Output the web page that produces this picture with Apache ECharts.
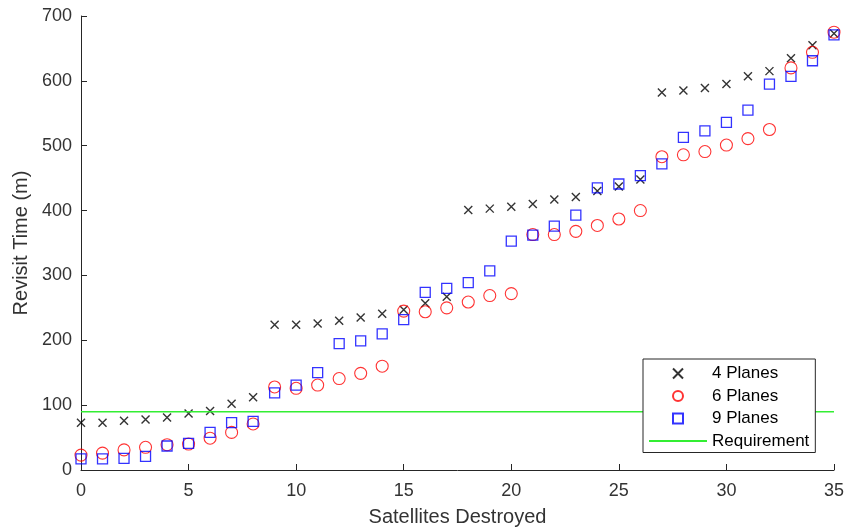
<!DOCTYPE html>
<html>
<head>
<meta charset="utf-8">
<script src="https://cdn.jsdelivr.net/npm/echarts@6/dist/echarts.min.js"></script>
<style>html,body{margin:0;padding:0;background:#fff;}#c{width:849px;height:532px;}</style>
</head>
<body>
<div id="c"></div>
<script>
const satellitesDestroyed = [0,1,2,3,4,5,6,7,8,9,10,11,12,13,14,15,16,17,18,19,20,21,22,23,24,25,26,27,28,29,30,31,32,33,34,35];
const planes4 = [73,73,76,78,81,87,91,102,112,224,224,226,230,235,241,247,257,267,401,403,406,410,417,421,430,437,448,582,585,589,595,607,615,635,655,673];
const planes6 = [23,26,31,35,39,40,49,58,71,128,126,131,141,149,160,245,244,250,259,269,272,363,363,368,377,387,400,483,486,491,501,511,525,620,644,675];
const planes9 = [17,17,18,21,37,41,58,73,75,119,131,150,195,199,210,232,274,280,289,307,353,362,376,393,435,441,454,472,513,523,536,555,595,607,631,671];
const requirementX = [0, 35];
const requirementY = [90, 90];
const xTicks = {min: 0, max: 35, interval: 5};
const yTicks = {min: 0, max: 700, interval: 100};
const seriesNames = ['4 Planes', '6 Planes', '9 Planes', 'Requirement'];

const pair = (xs, ys) => xs.map((x, i) => [x, ys[i]]);
const font = '"Liberation Sans", Arial, Helvetica, sans-serif';
const axisColor = '#262626';
const textColor = '#333333';
const crossPath = 'path://M0,0L10,10M10,0L0,10';
const squarePath = 'path://M0,0L10,0L10,10L0,10Z';

const chart = echarts.init(document.getElementById('c'), null, {renderer: 'canvas'});
chart.setOption({
  backgroundColor: '#ffffff',
  animation: false,
  textStyle: {fontFamily: font},
  grid: {left: 81, right: 15, top: 16, bottom: 61},
  xAxis: {
    type: 'value', min: xTicks.min, max: xTicks.max, interval: xTicks.interval,
    name: 'Satellites Destroyed', nameLocation: 'middle', nameGap: 37,
    nameTextStyle: {fontSize: 20, color: textColor, fontFamily: font},
    axisLine: {show: true, lineStyle: {color: axisColor, width: 1}},
    axisTick: {show: true, inside: true, length: 6, lineStyle: {color: axisColor}},
    axisLabel: {fontSize: 18, color: textColor, margin: 12, fontFamily: font},
    splitLine: {show: false}
  },
  yAxis: {
    type: 'value', min: yTicks.min, max: yTicks.max, interval: yTicks.interval,
    name: 'Revisit Time (m)', nameLocation: 'middle', nameGap: 49,
    nameTextStyle: {fontSize: 20, color: textColor, fontFamily: font},
    axisLine: {show: true, lineStyle: {color: axisColor, width: 1}},
    axisTick: {show: true, inside: true, length: 6, lineStyle: {color: axisColor}},
    axisLabel: {fontSize: 18, color: textColor, margin: 9, fontFamily: font},
    splitLine: {show: false}
  },
  legend: {
    orient: 'vertical', left: 643, top: 359,
    padding: [6, 6, 3, 5], itemGap: 5.5, itemWidth: 58, itemHeight: 10,
    borderColor: axisColor, borderWidth: 1, backgroundColor: '#ffffff',
    textStyle: {fontSize: 17, color: '#000', fontFamily: font},
    data: [
      {name: seriesNames[0]},
      {name: seriesNames[1]},
      {name: seriesNames[2]},
      {name: seriesNames[3], itemStyle: {opacity: 0}}
    ]
  },
  series: [
    {
      name: seriesNames[0], type: 'scatter', data: pair(satellitesDestroyed, planes4),
      symbol: crossPath, symbolSize: 8,
      itemStyle: {color: 'transparent', borderColor: '#000000', borderWidth: 1.4}
    },
    {
      name: seriesNames[1], type: 'scatter', data: pair(satellitesDestroyed, planes6),
      symbol: 'circle', symbolSize: 12,
      itemStyle: {color: 'transparent', borderColor: '#ff0000', borderWidth: 1.1}
    },
    {
      name: seriesNames[2], type: 'scatter', data: pair(satellitesDestroyed, planes9),
      symbol: squarePath, symbolSize: 10,
      itemStyle: {color: 'transparent', borderColor: '#0000ff', borderWidth: 1.3}
    },
    {
      name: seriesNames[3], type: 'line', data: pair(requirementX, requirementY),
      symbol: 'none', lineStyle: {color: '#33ee33', width: 1.5},
      itemStyle: {color: '#33ee33'}
    }
  ]
});
</script>
</body>
</html>
